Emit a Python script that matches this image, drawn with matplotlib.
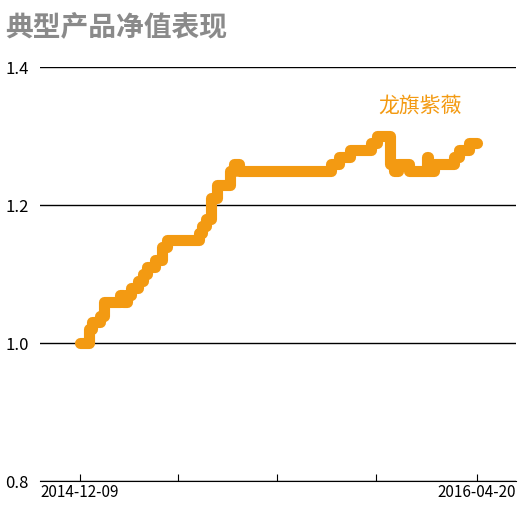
import numpy as np
import pandas as pd
import matplotlib.pyplot as plt

plt.rcParams['font.family'] = ['Noto Sans CJK SC', 'DejaVu Sans']

start = pd.Timestamp('2014-12-09')
end = pd.Timestamp('2016-04-20')
# day offsets from start and net values
days = [0, 12, 15, 19, 25, 31, 38, 50, 54, 60, 65, 73, 79, 85, 94, 103, 110, 115, 125, 150,
        154, 159, 165, 172, 177, 188, 194, 200, 211, 220, 226, 311, 315, 326, 339, 357, 366,
        373, 387, 390, 394, 400, 413, 436, 437, 445, 452, 470, 476, 489, 498]
values = [1.00, 1.02, 1.03, 1.03, 1.04, 1.06, 1.06, 1.07, 1.06, 1.07, 1.08, 1.09, 1.10, 1.11,
          1.12, 1.14, 1.15, 1.15, 1.15, 1.16, 1.17, 1.18, 1.21, 1.23, 1.23, 1.25, 1.26, 1.25,
          1.25, 1.25, 1.25, 1.25, 1.26, 1.27, 1.28, 1.28, 1.29, 1.30, 1.30, 1.26, 1.25, 1.26,
          1.25, 1.27, 1.25, 1.26, 1.26, 1.27, 1.28, 1.29, 1.29]
series_name = '龙旗紫薇'
title = '典型产品净值表现'

dates = [start + pd.Timedelta(days=d) for d in days]
orange = '#F39A12'

fig = plt.figure(figsize=(5.24, 5.13), dpi=100)
ax = fig.add_axes([0.076, 0.062, 0.908, 0.807])
ax.plot(dates, values, drawstyle='steps-post', color=orange, lw=8,
        solid_capstyle='round', solid_joinstyle='round')

ax.set_ylim(0.8, 1.4)
ax.set_yticks([0.8, 1.0, 1.2, 1.4])
ax.set_yticklabels(['0.8', '1.0', '1.2', '1.4'])
ax.grid(axis='y', color='black', lw=1)
ax.set_xlim(start - pd.Timedelta(days=50), end + pd.Timedelta(days=49))
ticks = [start + pd.Timedelta(days=d) for d in [0, 124, 248, 372, 498]]
ax.set_xticks(ticks)
ax.set_xticklabels(['2014-12-09', '', '', '', '2016-04-20'])
for s in ['top', 'right', 'left']:
    ax.spines[s].set_visible(False)
ax.spines['bottom'].set_color('black')
ax.tick_params(axis='y', length=0, labelsize=12, pad=8)
ax.tick_params(axis='x', length=5, direction='in', labelsize=11, pad=2)

ax.text(start + pd.Timedelta(days=375), 1.335, series_name, color=orange, fontsize=15)
fig.text(0.01, 0.975, title, color='#8a8a8a', fontsize=20, fontweight='bold', va='top')

fig.savefig('out.png', dpi=100)
